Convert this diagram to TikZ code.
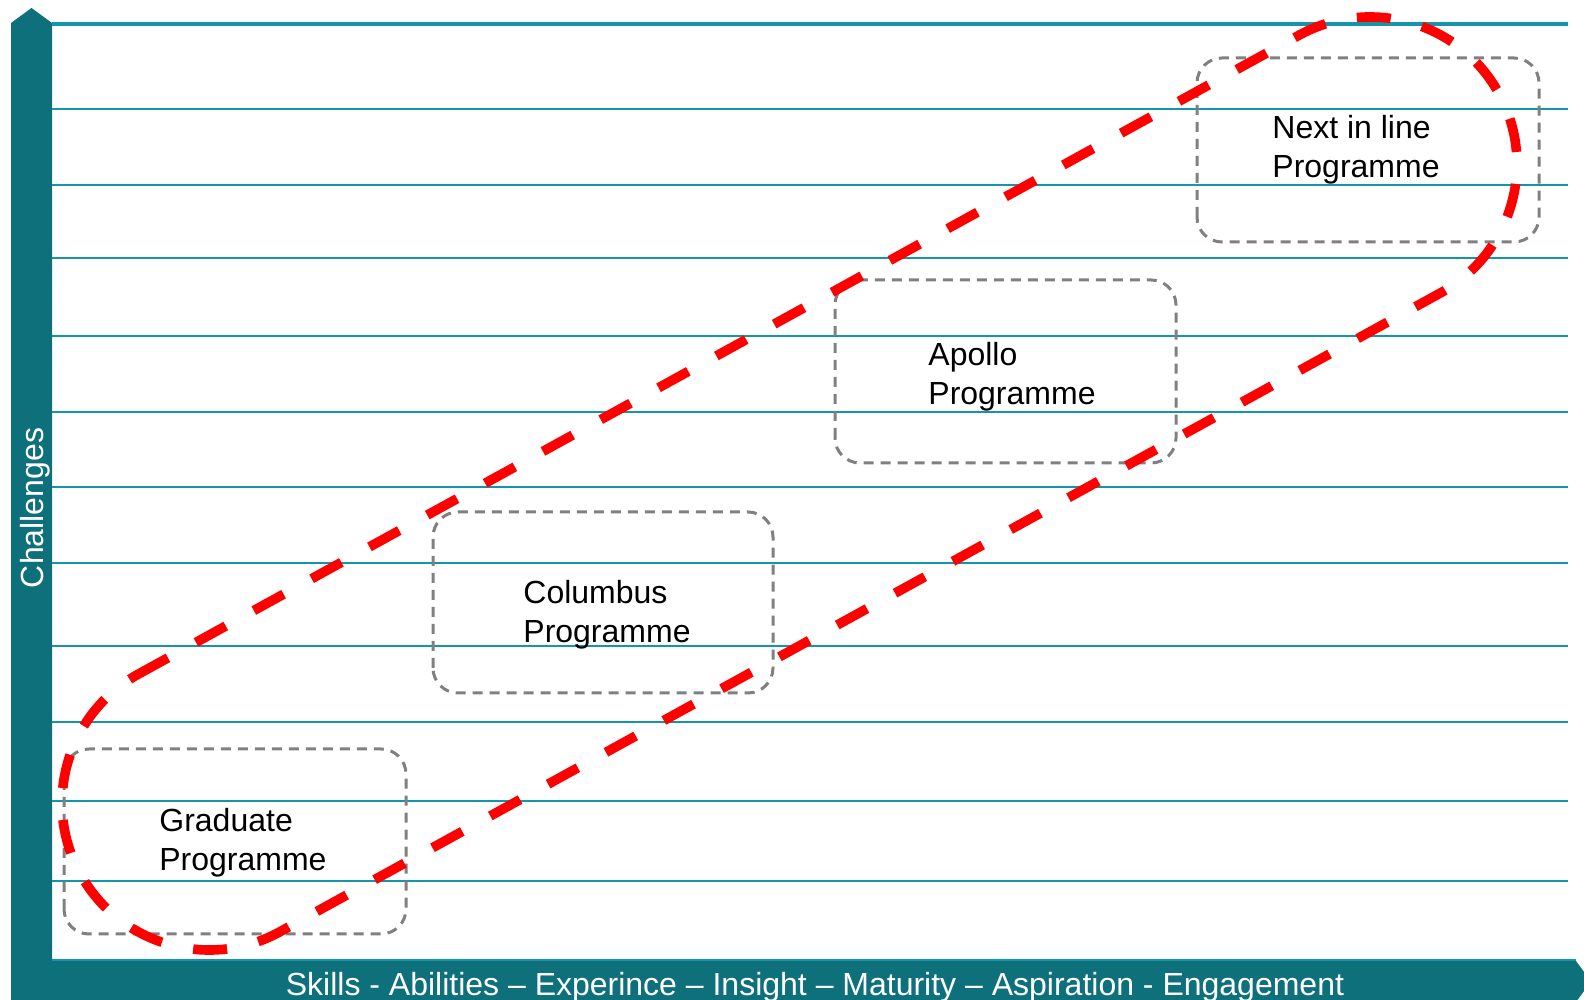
\documentclass[tikz,border=0pt]{standalone}
\usepackage{fontspec}
\setmainfont{Liberation Sans}
\definecolor{axisteal}{HTML}{0E707A}
\definecolor{gridteal}{HTML}{1496AA}
\definecolor{boxgray}{HTML}{808080}
\begin{document}
\begin{tikzpicture}[x=0.5pt,y=0.5pt,
  gridline/.style={draw=gridteal, line width=1.4pt},
  progbox/.style={draw=boxgray, line width=1.5pt, dash pattern=on 5pt off 3.5pt, rounded corners=12.5pt},
  progtext/.style={anchor=north west, inner sep=0pt, align=left, font=\fontsize{16}{19.5}\selectfont, text=black},
  redloop/.style={draw=red, line width=4.8pt, dash pattern=on 17pt off 16pt},
  axislabel/.style={text=white, inner sep=0pt, font=\fontsize{16}{19}\selectfont}]
\useasboundingbox (0,0) rectangle (1584,1000);
\clip (0,0) rectangle (1584,1000);

% axis bars with arrow points
\fill[axisteal] (11,-10) -- (11,977) -- (31.5,992) -- (52,977) -- (52,39)
  -- (1576,39) -- (1591,18.5) -- (1576,-2) -- (1576,-10) -- cycle;

% horizontal guide lines
\draw[gridline, line width=1.6pt] (52,976) -- (1568,976);
\foreach \yy in {891,815,742,664,588,513,437,354,278,199,119}
  \draw[gridline] (52,\yy) -- (1568,\yy);
\draw[gridline] (52,40) -- (1576,40);

% programme boxes
\draw[progbox] (1197,758) rectangle (1539,942);
\draw[progbox] (835,537) rectangle (1176,720);
\draw[progbox] (433,307) rectangle (773,488);
\draw[progbox] (64,66) rectangle (406,251);

\node[progtext] (next) at (1272,885) {Next in line\\Programme};
\node[progtext] (apollo) at (928,658) {Apollo\\Programme};
\node[progtext] (columbus) at (523,420) {Columbus\\Programme};
\node[progtext] (graduate) at (159,192) {Graduate\\Programme};

% red dashed loop around the programmes
\begin{scope}[shift={(789.5,516.5)}, rotate=28.83]
  \draw[redloop] (-662.6,147) -- (662.6,147)
    arc[start angle=90, end angle=-90, radius=73.5pt]
    -- (-662.6,-147)
    arc[start angle=270, end angle=90, radius=73.5pt] -- cycle;
\end{scope}

% axis labels
\node[axislabel, rotate=90, anchor=base] (ylabel) at (43,492) {Challenges};
\node[axislabel, anchor=base] (xlabel) at (815,4)
  {Skills - Abilities -- Experince -- Insight -- Maturity -- Aspiration - Engagement};
\end{tikzpicture}
\end{document}
